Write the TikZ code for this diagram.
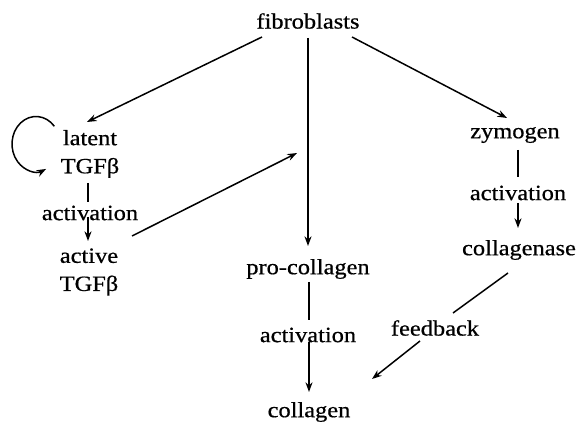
\documentclass[tikz,border=0pt]{standalone}
\usepackage{fontspec}
\setmainfont{Liberation Serif}[FakeStretch=1.12, FakeBold=0.6]
\usetikzlibrary{arrows.meta, calc}

\begin{document}
\begin{tikzpicture}[
  x=0.02cm, y=0.02cm,
  lbl/.style={font=\fontsize{12.4}{16}\selectfont, align=center, inner sep=0pt},
  arr/.style={-{Stealth[length=5.5pt,width=4pt]}, line width=0.85pt},
  ln/.style={line width=0.85pt}
]
  \useasboundingbox (0,0) rectangle (588,422);

  \node[lbl] (fib) at (308,401) {fibroblasts};

  % left branch
  \node[lbl] (latent) at (90,268) {latent\\TGFβ};
  \node[lbl] (act1) at (90,209) {activation};
  \node[lbl] (active) at (89,150) {active\\TGFβ};

  % middle branch
  \node[lbl] (procoll) at (308,153) {pro-collagen};
  \node[lbl] (act2) at (308,87) {activation};
  \node[lbl] (coll) at (309,10) {collagen};

  % right branch
  \node[lbl] (zym) at (515,287) {zymogen};
  \node[lbl] (act3) at (518,229) {activation};
  \node[lbl] (collase) at (519,172) {collagenase};
  \node[lbl] (fb) at (435,94) {feedback};

  \coordinate (hit) at ($(procoll)+(-11,116)$);

  \draw[arr] ($(fib)+(-46,-16)$) -- ($(latent)+(-3,32)$);
  \draw[arr] ($(fib)+(0,-17)$) -- ($(procoll)+(0,23)$);
  \draw[arr] ($(fib)+(44,-16)$) -- ($(zym)+(-8,17)$);

  \draw[arr] ($(latent)+(-54,10)+(40:0.48cm and 0.55cm)$)
    arc[start angle=40, end angle=295, x radius=0.48cm, y radius=0.55cm];
  \draw[ln] ($(latent)+(-2,-29)$) -- ($(act1)+(-2,11)$);
  \draw[arr] ($(act1)+(-2,-4)$) -- ($(active)+(-1,31)$);
  \draw[arr] ($(active)+(43,36)$) -- (hit);

  \draw[ln] ($(procoll)+(1,-13)$) -- ($(act2)+(1,15)$);
  \draw[arr] ($(act2)+(1,-7)$) -- ($(coll)+(0,20)$);

  \draw[ln] ($(zym)+(3,-15)$) -- ($(act3)+(0,16)$);
  \draw[arr] ($(act3)+(0,-10)$) -- ($(collase)+(-1,22)$);
  \draw[ln] ($(collase)+(-11,-23)$) -- ($(fb)+(18,15)$);
  \draw[arr] ($(fb)+(-15,-13)$) -- ($(coll)+(63,33)$);
\end{tikzpicture}
\end{document}
